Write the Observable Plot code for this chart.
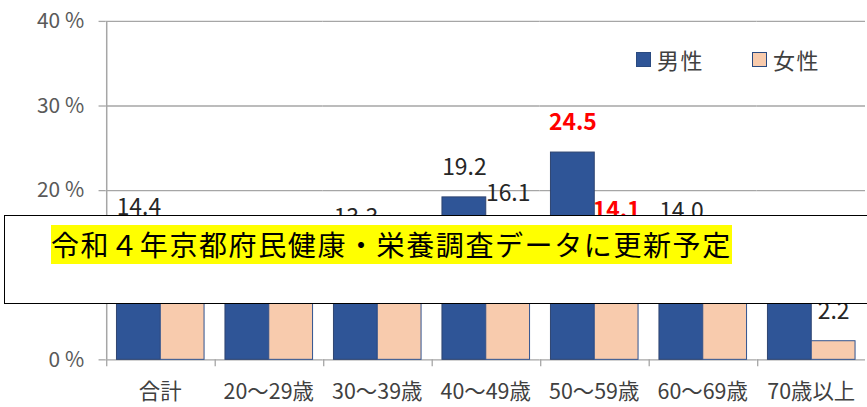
<!DOCTYPE html>
<html>
<head>
<meta charset="utf-8">
<script src="https://cdn.jsdelivr.net/npm/d3@7"></script>
<script src="https://cdn.jsdelivr.net/npm/@observablehq/plot@0.6"></script>
<style>
html, body { margin: 0; padding: 0; background: #fff; overflow: hidden; }
#wrap { position: relative; width: 867px; height: 407px; overflow: hidden; font-family: 'Noto Sans CJK JP', sans-serif; }
#chart svg { display: block; }
.item { position: absolute; top: 47px; height: 24px; display: flex; align-items: center; font-size: 22px; letter-spacing: 1.5px; color: #404040; }
.sw { width: 13px; height: 13px; border: 1.5px solid #2A4A80; margin-right: 6px; }
.notice { position: absolute; left: 4px; top: 215px; width: 900px; height: 89px; border: 1.5px solid #000; background: #fff; box-sizing: border-box; }
.notice span { position: absolute; left: 46px; top: 9px; height: 39px; line-height: 39px; font-size: 28px; letter-spacing: 1.6px; background: #FFFF00; color: #000; white-space: nowrap; }
</style>
</head>
<body>
<div id="wrap">
  <div id="chart"></div>
  <div id="legend"></div>
  <div class="notice"><span id="notice-text"></span></div>
</div>
<script>
// ---- data ----
const categories = ["合計", "20～29歳", "30～39歳", "40～49歳", "50～59歳", "60～69歳", "70歳以上"];
const sexes = ["男性", "女性"];
const maleValues = [14.4, 8.7, 13.3, 19.2, 24.5, 14.0, 6.6];
const femaleValues = [9.6, 8.0, 9.1, 16.1, 14.1, 8.4, 2.2];
const yTicks = [0, 10, 20, 30, 40];
const gridValues = [10, 20, 30, 40];
const highlightCategory = "50～59歳";
const noticeText = "令和４年京都府民健康・栄養調査データに更新予定";

// ---- styles / layout ----
const barColors = ["#2F5597", "#F8CBAD"];
const barStrokes = ["#2E4470", "#2F528F"];
const gridColor = "#A6A6A6";
const W = 871, H = 407, ML = 104, MT = 21, MB = 46;
const pOuter = 0.218;
const facetW = (W - ML) / categories.length;
const bandStep = facetW / (2 + 2 * pOuter);
const edgeDx = -(pOuter * bandStep + bandStep / 2);

const rows = categories.flatMap((c, i) => [
  {category: c, sex: sexes[0], value: maleValues[i]},
  {category: c, sex: sexes[1], value: femaleValues[i]}
]);

const plot = Plot.plot({
  width: W, height: H,
  marginLeft: ML, marginRight: 0, marginTop: MT, marginBottom: MB,
  style: {fontFamily: "'Noto Sans CJK JP', sans-serif", fontSize: "20px", color: "#404040", background: "transparent"},
  fx: {domain: categories, padding: 0, label: null, tickSize: 0, tickPadding: 24},
  x: {domain: sexes, paddingInner: 0, paddingOuter: pOuter, axis: null},
  y: {domain: [0, 40], ticks: yTicks, tickFormat: d => `${d} %`, tickSize: 7, tickPadding: 15, label: null},
  color: {domain: sexes, range: barColors},
  marks: [
    Plot.ruleY(gridValues, {y: d => d, stroke: gridColor, strokeWidth: 1.3}),
    Plot.ruleY([0], {y: d => d, stroke: gridColor, strokeWidth: 1.3}),
    Plot.barY(rows, {filter: d => d.sex === sexes[0], fx: "category", x: "sex", y: "value", fill: "sex", stroke: barStrokes[0], strokeWidth: 1}),
    Plot.barY(rows, {filter: d => d.sex === sexes[1], fx: "category", x: "sex", y: "value", fill: "sex", stroke: barStrokes[1], strokeWidth: 1}),
    Plot.ruleX(categories, {fx: d => d, x: () => sexes[0], y1: 0, y2: 0, insetBottom: -7, dx: edgeDx, stroke: gridColor, strokeWidth: 1.3}),
    Plot.ruleX([categories[0]], {fx: d => d, x: () => sexes[0], y1: 0, y2: 40, dx: edgeDx, stroke: gridColor, strokeWidth: 1.5}),
    Plot.text(rows, {filter: d => d.category !== highlightCategory, fx: "category", x: "sex", y: "value",
      text: d => d.value.toFixed(1), dy: -30, fontSize: 23, fill: "#262626"}),
    Plot.text(rows, {filter: d => d.category === highlightCategory, fx: "category", x: "sex", y: "value",
      text: d => d.value.toFixed(1), dy: -30, fontSize: 23, fontWeight: "bold", fill: "#FF0000"})
  ]
});
// axis styling (inline, to override library defaults)
d3.select(plot).selectAll("g[aria-label]").each(function() {
  const label = this.getAttribute("aria-label") || "";
  const g = d3.select(this);
  if (label.startsWith("y-axis")) {
    g.selectAll("text").style("font-size", "21px").style("fill", "#595959");
    g.selectAll("line, path").style("stroke", gridColor).style("stroke-width", "1.3px");
  } else if (label.startsWith("fx-axis")) {
    g.selectAll("text").style("font-size", "21.5px").style("fill", "#404040");
  }
});
document.getElementById("chart").append(plot);

// legend
const legend = document.getElementById("legend");
const legendLeft = [636, 752];
sexes.forEach((s, i) => {
  const item = document.createElement("div");
  item.className = "item";
  item.style.left = legendLeft[i] + "px";
  const sw = document.createElement("div");
  sw.className = "sw";
  sw.style.background = barColors[i];
  const label = document.createElement("span");
  label.textContent = s;
  item.append(sw, label);
  legend.append(item);
});
document.getElementById("notice-text").textContent = noticeText;
</script>
</body>
</html>
